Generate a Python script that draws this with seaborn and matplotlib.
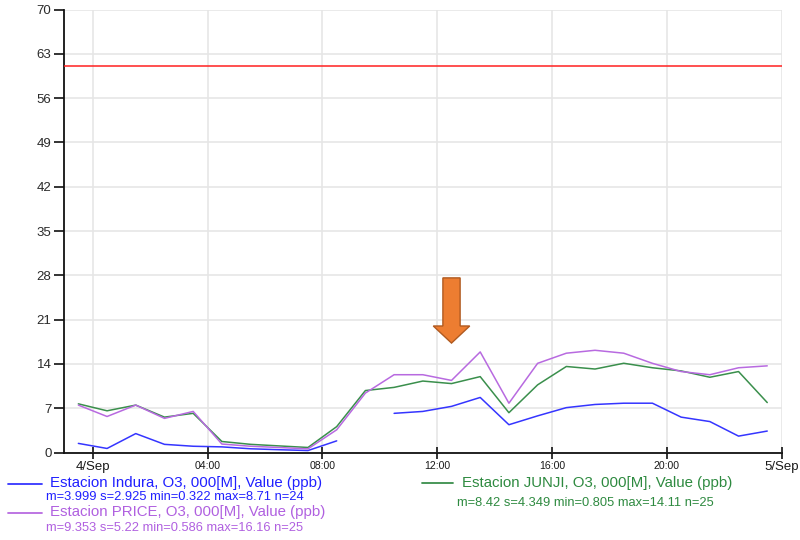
import numpy as np
import pandas as pd
import matplotlib
matplotlib.use("Agg")
import matplotlib.pyplot as plt
from matplotlib.lines import Line2D
import seaborn as sns

# Hourly averages, stamped at the half hour (hours relative to 4/Sep 00:00)
hours = [-0.5, 0.5, 1.5, 2.5, 3.5, 4.5, 5.5, 6.5, 7.5, 8.5, 9.5, 10.5, 11.5,
         12.5, 13.5, 14.5, 15.5, 16.5, 17.5, 18.5, 19.5, 20.5, 21.5, 22.5, 23.5]

indura = [1.45, 0.65, 3.0, 1.3, 1.0, 0.9, 0.6, 0.45, 0.32, 1.85, np.nan, 6.2, 6.5,
          7.3, 8.71, 4.4, 5.8, 7.1, 7.6, 7.8, 7.8, 5.6, 4.9, 2.6, 3.4]
junji = [7.7, 6.6, 7.5, 5.6, 6.2, 1.75, 1.3, 1.05, 0.805, 4.1, 9.8, 10.3, 11.3,
         10.9, 12.0, 6.3, 10.7, 13.6, 13.2, 14.11, 13.4, 12.9, 11.9, 12.8, 7.9]
price = [7.5, 5.7, 7.5, 5.4, 6.5, 1.35, 1.0, 0.8, 0.586, 3.6, 9.4, 12.3, 12.3,
         11.4, 15.9, 7.8, 14.1, 15.7, 16.16, 15.7, 14.1, 12.8, 12.3, 13.4, 13.7]

limit = 61  # ppb reference level

series_names = ["Estacion Indura, O3, 000[M], Value (ppb)",
                "Estacion JUNJI, O3, 000[M], Value (ppb)",
                "Estacion PRICE, O3, 000[M], Value (ppb)"]
series_stats = ["m=3.999 s=2.925 min=0.322 max=8.71 n=24",
                "m=8.42 s=4.349 min=0.805 max=14.11 n=25",
                "m=9.353 s=5.22 min=0.586 max=16.16 n=25"]
colors = ["#3535ff", "#3a8f4c", "#b86ae0"]
text_colors = ["#2020ff", "#2e8a40", "#b060e0"]

tick_pos = [0, 4, 8, 12, 16, 20, 24]
tick_labels = ["4/Sep", "04:00", "08:00", "12:00", "16:00", "20:00", "5/Sep"]
y_ticks = [0, 7, 14, 21, 28, 35, 42, 49, 56, 63, 70]

sns.set_theme(style="white")
plt.rcParams["font.family"] = ["Liberation Sans", "DejaVu Sans"]

fig = plt.figure(figsize=(8, 5.4), dpi=100)
ax = fig.add_axes([0.08, 0.1619, 0.977 - 0.08, 0.9824 - 0.1619])

frames = []
for name, vals in zip(series_names, [indura, junji, price]):
    s = pd.Series(vals)
    seg = s.isna().cumsum()
    frames.append(pd.DataFrame({"hour": hours, "ppb": vals, "station": name,
                                "seg": seg}).dropna())
df = pd.concat(frames, ignore_index=True)

for name, color in zip(series_names, colors):
    sub = df[df["station"] == name]
    sns.lineplot(data=sub, x="hour", y="ppb", units="seg", estimator=None,
                 color=color, linewidth=1.1, ax=ax, legend=False)

ax.axhline(limit, color="#ff2020", linewidth=1.1, zorder=3)

# Highlight arrow
ax.arrow(12.5, 27.6, 0, -10.3, width=0.6, head_width=1.27, head_length=2.7,
         length_includes_head=True, facecolor="#ed7d31", edgecolor="#b05a20",
         linewidth=1.0, zorder=5)

ax.set_xlim(-1, 24)
ax.set_ylim(0, 70)
ax.set_xticks(tick_pos)
ax.set_xticklabels(tick_labels)
ax.set_yticks(y_ticks)
ax.set_xlabel("")
ax.set_ylabel("")

ax.grid(True, color="#e6e6e6", linewidth=1.2)
ax.set_axisbelow(True)
for side in ["top", "right"]:
    ax.spines[side].set_visible(False)
for side in ["left", "bottom"]:
    ax.spines[side].set_color("#111111")
    ax.spines[side].set_linewidth(1.3)

ax.tick_params(axis="y", direction="out", length=7, width=1.2, color="#111111",
               labelsize=9.5, labelcolor="#2a2a2a", pad=2, left=True)
ax.tick_params(axis="x", direction="inout", length=8, width=1.2, color="#111111",
               labelcolor="#1a1a1a", pad=2, bottom=True)
for lab, txt in zip(ax.get_xticklabels(), tick_labels):
    if "Sep" in txt:
        lab.set_fontsize(9.5)
    else:
        lab.set_fontsize(7.6)

# Legend built as figure text with line samples
H, W = 540.0, 800.0
entries = [
    (0, (8, 42, 483.5), (50, 482.7), (45.7, 497.3)),
    (2, (8, 42, 512.7), (50, 511.7), (45.7, 528.3)),
    (1, (421.7, 453.3, 483.3), (462.3, 483.3), (456.7, 503.3)),
]
for i, (x0, x1, ly), (tx, ty), (sx, sy) in entries:
    fig.add_artist(Line2D([x0 / W, x1 / W], [1 - ly / H, 1 - ly / H],
                          color=colors[i], linewidth=1.3))
    fig.text(tx / W, 1 - ty / H, series_names[i], color=text_colors[i],
             fontsize=10.8, ha="left", va="center")
    fig.text(sx / W, 1 - sy / H, series_stats[i], color=text_colors[i],
             fontsize=9.3, ha="left", va="center")

fig.savefig("out.png", dpi=100)
